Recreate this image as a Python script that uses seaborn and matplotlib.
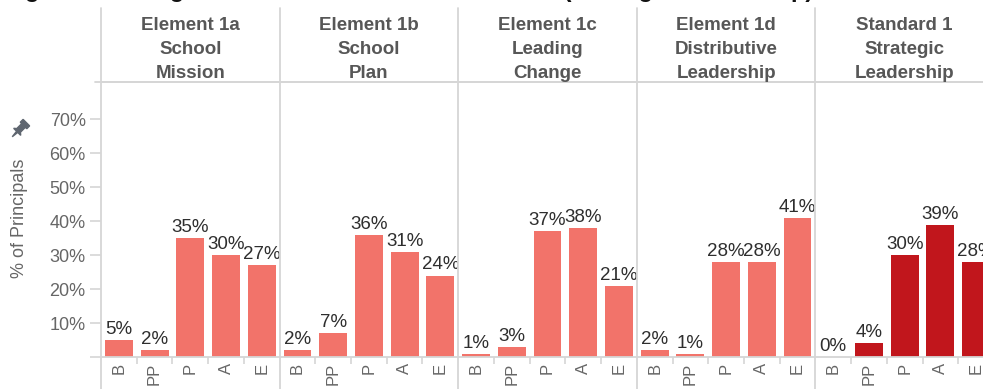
import numpy as np
import pandas as pd
import matplotlib
matplotlib.use("Agg")
import matplotlib.pyplot as plt
from matplotlib.lines import Line2D
from matplotlib.patches import Polygon
import seaborn as sns

# ---------------- data ----------------
categories = ["B", "PP", "P", "A", "E"]
panel_titles = [
    ["Element 1a", "School", "Mission"],
    ["Element 1b", "School", "Plan"],
    ["Element 1c", "Leading", "Change"],
    ["Element 1d", "Distributive", "Leadership"],
    ["Standard 1", "Strategic", "Leadership"],
]
element_1a = [5, 2, 35, 30, 27]
element_1b = [2, 7, 36, 31, 24]
element_1c = [1, 3, 37, 38, 21]
element_1d = [2, 1, 28, 28, 41]
standard_1 = [0, 4, 30, 39, 28]
series = [element_1a, element_1b, element_1c, element_1d, standard_1]
y_ticks = [0, 10, 20, 30, 40, 50, 60, 70]
title = "Figure 3: Ratings on Standard 1 and its Elements (Strategic Leadership)"

# ---------------- style ----------------
sns.set_style("white")
plt.rcParams["font.family"] = ["Liberation Sans", "DejaVu Sans"]

W, H = 983, 389
fig = plt.figure(figsize=(W / 100, H / 100), dpi=100)

def fx(px):
    return px / W

def fy(py):
    return 1 - py / H

SEP = "#d6d6d6"
SALMON = "#F2736A"
DARK = "#C1161C"
TXT = "#2e2e2e"
GRAY = "#666666"
HEAD = "#575757"

left0 = 101
pw = 178.6
top_px, base_px = 82, 357

for i, (vals, head) in enumerate(zip(series, panel_titles)):
    left = left0 + i * pw
    ax = fig.add_axes([fx(left), fy(base_px), pw / W, (base_px - top_px) / H])
    df = pd.DataFrame({"rating": categories, "pct": vals})
    color = DARK if i == 4 else SALMON
    sns.barplot(data=df, x="rating", y="pct", order=categories, color=color,
                width=0.78, ax=ax, saturation=1, edgecolor="none")
    ax.set_xlim(-0.5, 4.5)
    ax.set_ylim(0, 81)
    ax.set_xlabel("")
    ax.set_ylabel("")
    for c in ax.containers:
        ax.bar_label(c, labels=[f"{v}%" for v in vals], padding=1.5,
                     fontsize=13.5, color=TXT)
    # spines
    for s in ["left", "right"]:
        ax.spines[s].set_visible(False)
    for s in ["top", "bottom"]:
        ax.spines[s].set_visible(True)
        ax.spines[s].set_color(SEP)
        ax.spines[s].set_linewidth(1.3)
    # x ticks
    ax.set_xticks(range(len(categories)))
    ax.set_xticklabels(categories, rotation=90, fontsize=12, color=GRAY)
    ax.tick_params(axis="x", which="major", length=0, pad=4)
    ax.set_xticks([0.5, 1.5, 2.5, 3.5], minor=True)
    ax.tick_params(axis="x", which="minor", length=5, width=1.2, color=SEP,
                   direction="out", bottom=True)
    for lbl in ax.get_xticklabels():
        lbl.set_verticalalignment("top")
    # y ticks
    if i == 0:
        ax.set_yticks(y_ticks)
        ax.set_yticklabels(["" if t == 0 else f"{t}%" for t in y_ticks],
                           fontsize=13, color=GRAY)
        ax.tick_params(axis="y", length=8, width=1.2, color=SEP, pad=3,
                       left=True, direction="out")
    else:
        ax.set_yticks([])
    ax.grid(False)
    # header text
    cx = left + pw / 2
    for line, yb in zip(head, [30, 54, 78]):
        fig.text(fx(cx), fy(yb), line, ha="center", va="baseline",
                 fontsize=13.5, fontweight="bold", color=HEAD)

# separators
for i in range(5):
    x = left0 + i * pw
    fig.add_artist(Line2D([fx(x), fx(x)], [fy(8), fy(389)], color=SEP,
                          lw=1.3, transform=fig.transFigure))
fig.add_artist(Line2D([fx(95), 1], [fy(top_px), fy(top_px)], color=SEP,
                      lw=1.3, transform=fig.transFigure))

# y label
fig.text(fx(20), fy(218), "% of Principals", rotation=90, ha="center",
         va="center", fontsize=13, color=GRAY)

# pin icon
cx0, cy0 = 20, 129
u = np.array([1, -1]) / np.sqrt(2)
v = np.array([1, 1]) / np.sqrt(2)
shape = [(-11, 0), (-4, 0.8), (-4, 5), (-2, 2.6), (5, 2.6), (5, 4.6),
         (9, 4.6), (9, -4.6), (5, -4.6), (5, -2.6), (-2, -2.6), (-4, -5), (-4, -0.8)]
pts = []
for a, b in shape:
    p = np.array([cx0, cy0]) + a * u + b * v
    pts.append((fx(p[0]), fy(p[1])))
fig.add_artist(Polygon(pts, closed=True, color="#5f6670", transform=fig.transFigure))

# title (mostly cut off at the top, as in the reference)
fig.text(fx(4), fy(-2.5), title, ha="left", va="baseline", fontsize=17,
         fontweight="bold", color="#111111")

fig.savefig("out.png", dpi=100)
